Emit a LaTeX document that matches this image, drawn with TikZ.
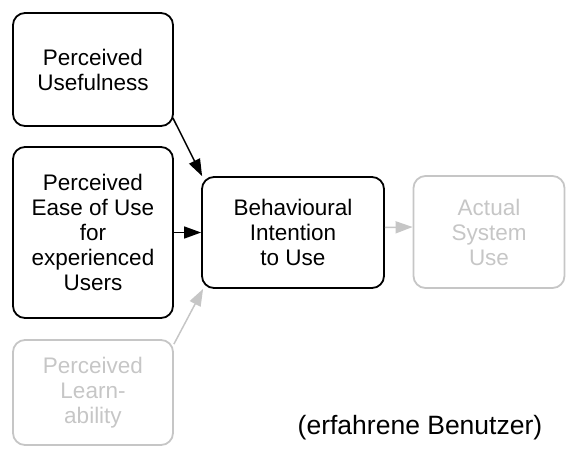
\documentclass[tikz,border=0pt]{standalone}
\usepackage{fontspec}
\setmainfont{Liberation Sans}
\usetikzlibrary{arrows.meta}
\definecolor{faded}{RGB}{198,198,198}
\begin{document}
\begin{tikzpicture}[x=1pt,y=-1pt,
  box/.style={draw=black,line width=1.8pt,rounded corners=12pt,align=center,
    inner sep=0pt,font=\fontsize{22.5}{25}\selectfont},
  fbox/.style={box,draw=faded,text=faded},
  arr/.style={line width=1.5pt,-{Triangle[length=17pt,width=12pt]}},
  farr/.style={arr,draw=faded,fill=faded}]
\useasboundingbox (0,0) rectangle (567,448);
\node[box,minimum width=160pt,minimum height=113pt] (pu) at (93,69.5) {Perceived\\Usefulness};
\node[box,minimum width=160pt,minimum height=171pt] (peou) at (93,232.5) {Perceived\\Ease of Use\\for\\experienced\\Users};
\node[box,minimum width=182pt,minimum height=111pt] (bi) at (293,232.5) {Behavioural\\Intention\\to Use};
\node[fbox,minimum width=151pt,minimum height=112pt] (asu) at (489,232) {Actual\\System\\Use};
\node[fbox,minimum width=160pt,minimum height=105pt] (pl) at (93,392.5) {Perceived\\Learn-\\ability};
\node[font=\fontsize{26.5}{30}\selectfont,anchor=base] (lbl) at (420,434) {(erfahrene Benutzer)};
\draw[arr] ([xshift=-1pt,yshift=9pt]pu.south east) -- ([xshift=1pt]bi.north west);
\draw[arr] (peou.east) -- (bi.west);
\draw[farr] ([yshift=-5pt]pl.north east) -- ([xshift=2pt]bi.south west);
\draw[farr] ([yshift=5pt]bi.east) -- ([yshift=5pt]asu.west);
\end{tikzpicture}
\end{document}
